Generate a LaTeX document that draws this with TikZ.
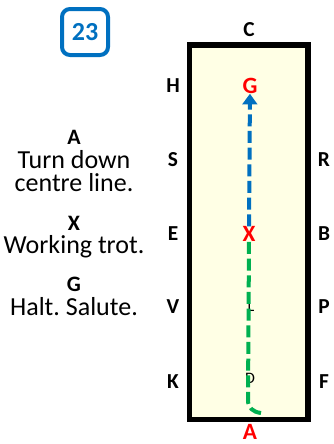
\documentclass[tikz,border=0pt]{standalone}
\usepackage{fontspec}
\setmainfont{Carlito}
\usetikzlibrary{arrows.meta}
\usetikzlibrary{positioning}
\definecolor{arenablue}{RGB}{0,112,192}
\definecolor{arenagreen}{RGB}{0,176,80}
\definecolor{arenared}{RGB}{255,0,0}
\definecolor{arenasand}{RGB}{255,255,229}
\frenchspacing

\begin{document}
\begin{tikzpicture}[x=0.75pt,y=-0.75pt]
      \useasboundingbox (0,0) rectangle (334,444);
      \node[draw=arenablue, line width=3pt, rounded corners=6pt, minimum size=34.5pt, inner sep=0pt,
            text=arenablue, font=\bfseries\fontsize{19.5}{20}\selectfont] (num) at (85,32) {23};
      \node[draw=black, line width=4.1pt, fill=arenasand, minimum width=88.6pt, minimum height=280.9pt] (arena) at (248.8,232.2) {};
      \begin{scope}[every node/.style={anchor=base, font=\bfseries\fontsize{16}{17}\selectfont, inner sep=0pt}]
        \node (C) at (249,36.7) {C};
        \node (H) at (173,92.7) {H};
        \node (S) at (173,166) {S};
        \node (E) at (173,240) {E};
        \node (V) at (173,313) {V};
        \node (K) at (173,388) {K};
        \node (R) at (324,166) {R};
        \node (B) at (324,240) {B};
        \node (P) at (324,313) {P};
        \node (F) at (324,388) {F};
      \end{scope}
      \begin{scope}[every node/.style={anchor=base, font=\fontsize{12}{13}\selectfont, inner sep=0pt}]
        \node (L) at (251,311.7) {L};
        \node (D) at (250,383) {D};
      \end{scope}
      \begin{scope}[every node/.style={anchor=base, text=arenared, font=\bfseries\fontsize{17.5}{19}\selectfont, inner sep=0pt}]
        \node (G) at (250,93.3) {G};
        \node (X) at (249,241.7) {X};
        \node (A) at (250,439) {A};
      \end{scope}
      \begin{scope}[every node/.style={anchor=base, align=center, font=\fontsize{19.5}{17}\selectfont, inner sep=0pt}]
        \node[font=\bfseries\fontsize{16.5}{17}\selectfont] (tA) at (74,144) {A};
        \node (dA) at (74,191) {Turn down\\centre line.};
        \node[font=\bfseries\fontsize{16.5}{17}\selectfont] (tX) at (74,230) {X};
        \node (dX) at (74,253) {Working trot.};
        \node[font=\bfseries\fontsize{16.5}{17}\selectfont] (tG) at (74,291) {G};
        \node (dG) at (74,315) {Halt. Salute.};
      \end{scope}
      \coordinate (bend) at (248,400);
      \coordinate (turn) at (261,413);
      \draw[arenagreen, line width=3pt, dash pattern=on 9pt off 3.5pt]
        (X.south) -- (bend) .. controls (248,408) and (253,412) .. (turn);
      \path (X) edge[draw=arenablue, line width=3pt, dash pattern=on 9pt off 3.5pt,
        -{Triangle[width=11pt,length=8pt]}] (G);
\end{tikzpicture}
\end{document}
